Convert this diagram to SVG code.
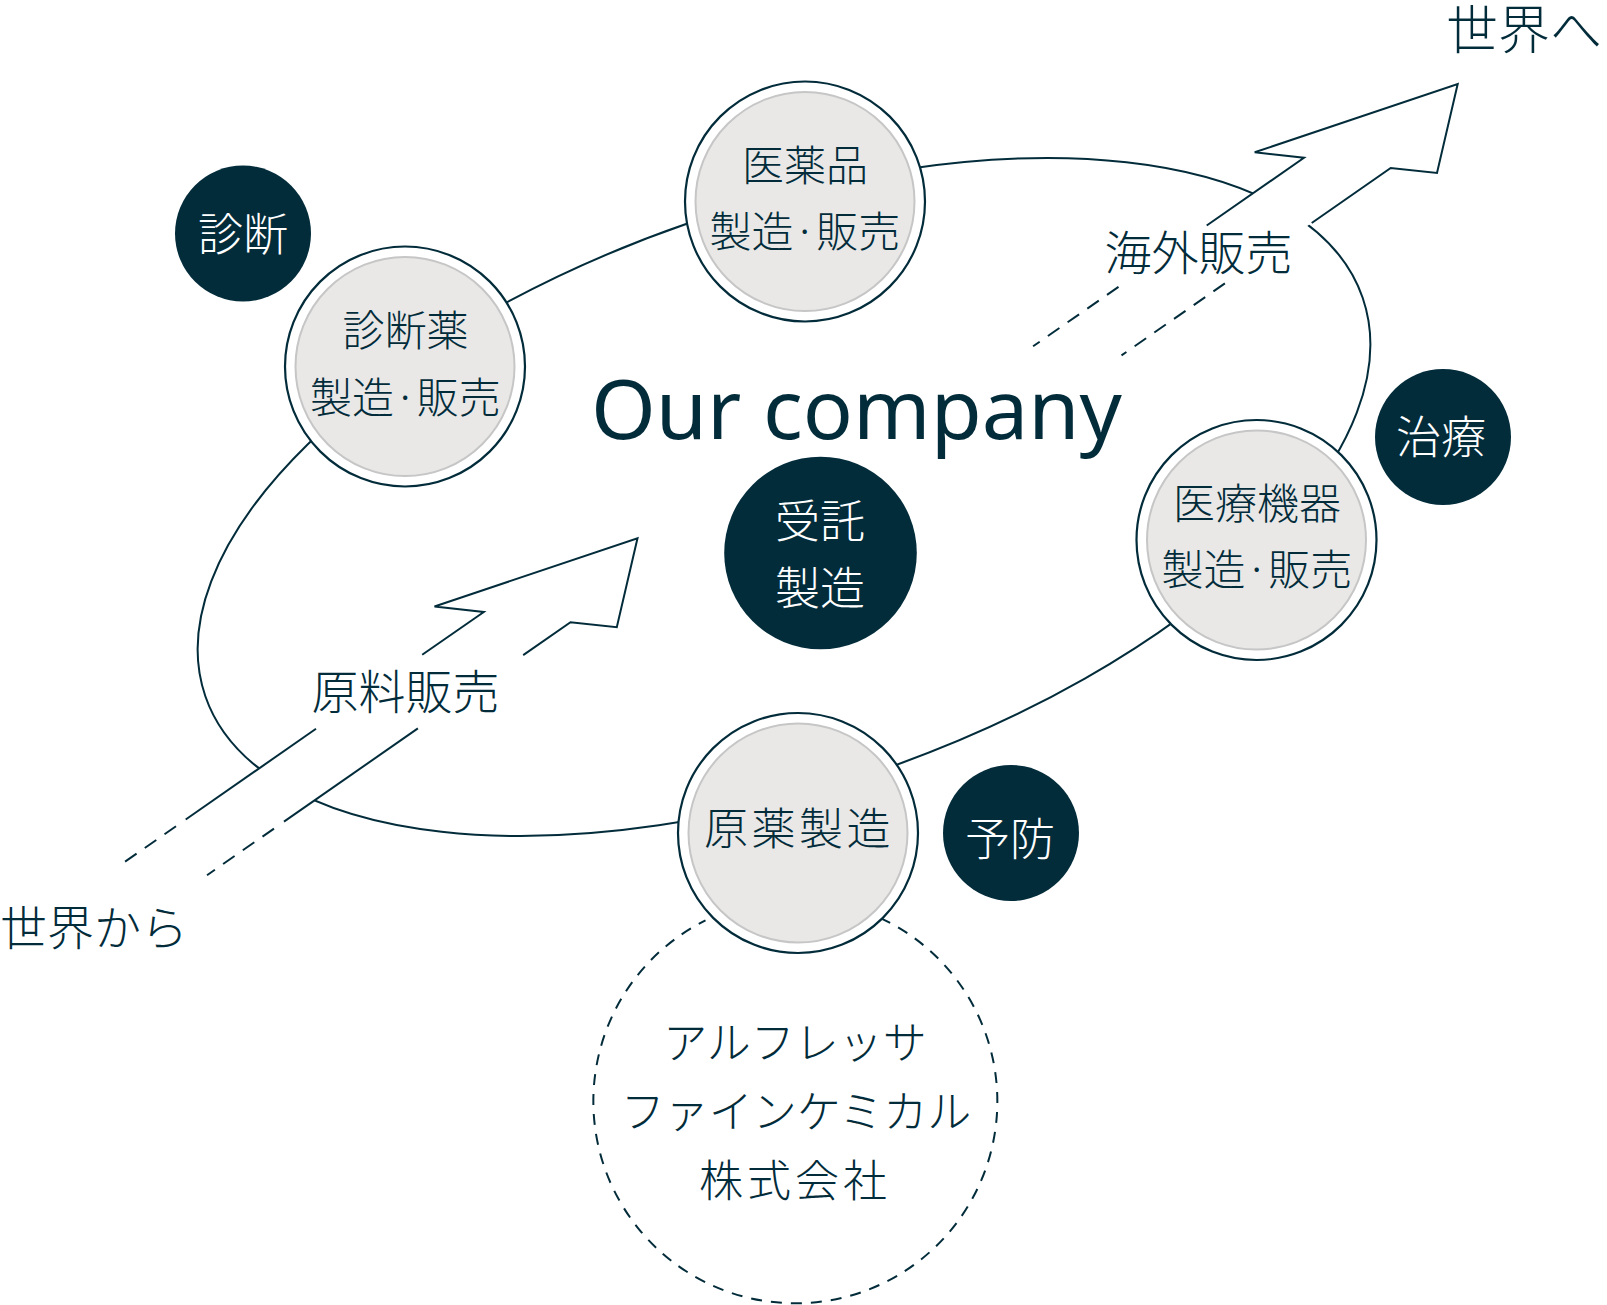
<svg xmlns="http://www.w3.org/2000/svg" width="1607" height="1305" viewBox="0 0 1607 1305">
<style>
.ln{fill:none;stroke:#032c3b;stroke-width:2}
.dash{fill:none;stroke:#032c3b;stroke-width:2;stroke-dasharray:14 10}
.cdash{fill:none;stroke:#032c3b;stroke-width:2;stroke-dasharray:11 9}
.ring{fill:#fff;stroke:#032c3b;stroke-width:2.2}
.core{fill:#e9e8e7;stroke:#c6c6c6;stroke-width:2}
.dark{fill:#032c3b}
.wfill{fill:#fff;stroke:none}
.jp{font-family:"Noto Sans CJK JP","Noto Sans CJK SC",sans-serif;font-weight:300;fill:#032c3b;text-anchor:middle}
.jpw{font-family:"Noto Sans CJK JP","Noto Sans CJK SC",sans-serif;font-weight:300;fill:#ffffff;text-anchor:middle}
.en{font-family:"Noto Sans","Open Sans",sans-serif;fill:#032c3b}
</style>
<rect width="1607" height="1305" fill="#fff"/>
<g id="connectors">
  <ellipse class="ln" cx="784" cy="497" rx="612" ry="290" transform="rotate(-19 784 497)"/>
  <g id="arrow-out">
    <polygon class="wfill" points="1457.7,84 1437,173 1390.7,168 1300.4,230.8 1201.4,229.2 1304,157.8 1254.7,152.3"/>
    <path class="ln" d="M1206.7 225.5 L1304 157.8 L1254.7 152.3 L1457.7 84 L1437 173 L1390.7 168 L1311.7 223"/>
    <line class="dash" x1="1118.5" y1="286.9" x2="1033.1" y2="346.3"/>
    <line class="dash" x1="1224.9" y1="283.4" x2="1121.5" y2="355.4"/>
  </g>
  <g id="arrow-in">
    <polygon class="wfill" points="637.5,538.2 616.8,627.2 570.5,622.2 284,821.6 185.7,819.5 483.8,612 434.5,606.5"/>
    <path class="ln" d="M422.2 654.8 L483.8 612 L434.5 606.5 L637.5 538.2 L616.8 627.2 L570.5 622.2 L523.2 655.1"/>
    <line class="ln" x1="316" y1="728.8" x2="185.7" y2="819.5"/>
    <line class="ln" x1="417.9" y1="728.4" x2="284" y2="821.6"/>
    <line class="dash" x1="176" y1="826.3" x2="120.4" y2="864.9"/>
    <line class="dash" x1="274" y1="828.6" x2="207" y2="875.2"/>
  </g>
</g>
<g id="node-alfresa">
  <path class="cdash" d="M880.4 918.1 A202 202 0 1 1 705.5 920.4"/>
  <text class="jp" font-size="44" x="795" y="1059">アルフレッサ</text>
  <text class="jp" font-size="44" x="796" y="1128">ファインケミカル</text>
  <text class="jp" font-size="44" x="795" y="1197" letter-spacing="4">株式会社</text>
</g>
<g id="node-iyakuhin">
  <circle class="ring" cx="805" cy="201.5" r="120"/>
  <circle class="core" cx="805" cy="201.5" r="109.5"/>
  <text class="jp" font-size="42" x="805" y="180.5">医薬品</text>
  <text class="jp" font-size="42" x="805" y="247">製造·販売</text>
</g>
<g id="node-shindanyaku">
  <circle class="ring" cx="405" cy="366.5" r="120"/>
  <circle class="core" cx="405" cy="366.5" r="109.5"/>
  <text class="jp" font-size="42" x="405.5" y="345.5">診断薬</text>
  <text class="jp" font-size="42" x="405.5" y="412.5">製造·販売</text>
</g>
<g id="node-iryokiki">
  <circle class="ring" cx="1256.5" cy="540" r="120"/>
  <circle class="core" cx="1256.5" cy="540" r="109.5"/>
  <text class="jp" font-size="42" x="1257" y="518.5">医療機器</text>
  <text class="jp" font-size="42" x="1257" y="585">製造·販売</text>
</g>
<g id="node-genyaku">
  <circle class="ring" cx="798" cy="833" r="120"/>
  <circle class="core" cx="798" cy="833" r="109.5"/>
  <text class="jp" font-size="44" x="799" y="845" letter-spacing="3.5">原薬製造</text>
</g>
<g id="node-shindan">
  <circle class="dark" cx="243" cy="233.5" r="68"/>
  <text class="jpw" font-size="45" x="243" y="250.5">診断</text>
</g>
<g id="node-chiryo">
  <circle class="dark" cx="1443" cy="437" r="68"/>
  <text class="jpw" font-size="45" x="1441" y="454">治療</text>
</g>
<g id="node-yobo">
  <circle class="dark" cx="1011" cy="833" r="68"/>
  <text class="jpw" font-size="45" x="1010" y="855.5">予防</text>
</g>
<g id="node-jutaku">
  <circle class="dark" cx="820.5" cy="553" r="96.3"/>
  <text class="jpw" font-size="45" x="820" y="537.5">受託</text>
  <text class="jpw" font-size="45" x="820" y="605">製造</text>
</g>
<g id="labels">
  <text class="en" font-size="83" x="591" y="439">Our company</text>
  <text class="jp" font-size="47" x="1198.5" y="270">海外販売</text>
  <text class="jp" font-size="47" x="405.5" y="709">原料販売</text>
  <text class="jp" font-size="52" x="1446" y="49" style="text-anchor:start">世界へ</text>
  <text class="jp" font-size="47" x="0" y="945" style="text-anchor:start">世界から</text>
</g>
</svg>
